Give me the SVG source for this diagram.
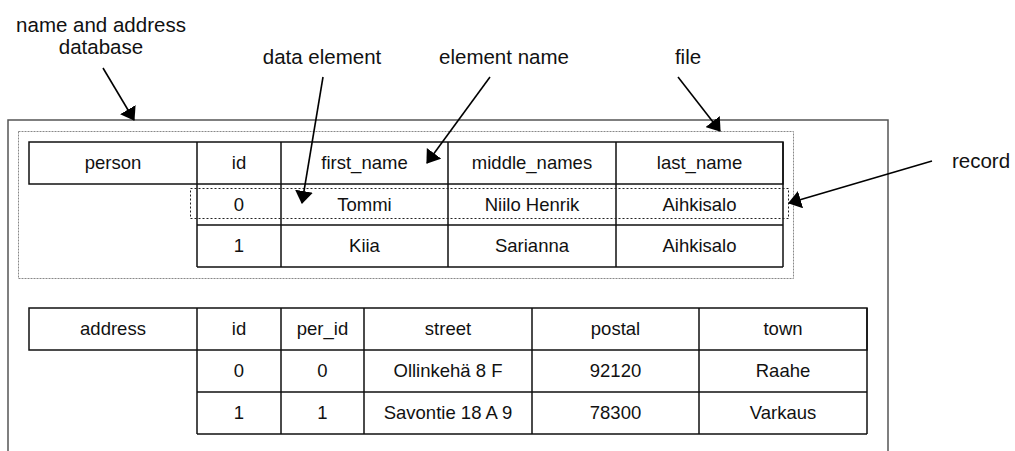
<svg xmlns="http://www.w3.org/2000/svg" width="1015" height="451" viewBox="0 0 1015 451">
  <style>
    .lbl { font-family: "Liberation Sans", Arial, sans-serif; font-size: 20.5px; fill: #111; text-anchor: middle; }
    .cell { font-family: "Liberation Sans", Arial, sans-serif; font-size: 18.5px; fill: #111; text-anchor: middle; }
    .grid { fill: none; stroke: #111; stroke-width: 1.5; }
    .frame { fill: none; stroke: #555; stroke-width: 1.5; }
    .filebox { fill: none; stroke: #888; stroke-width: 1; stroke-dasharray: 2 1; }
    .recbox { fill: none; stroke: #222; stroke-width: 1; stroke-dasharray: 2 2; }
    .arrow { fill: none; stroke: #000; stroke-width: 1.6; marker-end: url(#head); }
  </style>
  <defs>
    <marker id="head" viewBox="0 0 13 18" refX="12" refY="9" markerWidth="13" markerHeight="18" markerUnits="userSpaceOnUse" orient="auto">
      <path d="M0,0 L13,9 L0,18 z" fill="#000"/>
    </marker>
  </defs>
  <rect width="1015" height="451" fill="#fff"/>

  <!-- database frame -->
  <g id="database">
    <path class="frame" d="M8,452 V120 H888 V452"/>
  </g>

  <!-- person file -->
  <g id="file">
    <rect class="filebox" x="18.5" y="131.5" width="775" height="147"/>
  </g>

  <g id="person-table">
    <rect class="grid" x="29" y="142" width="754" height="42"/>
    <path class="grid" d="M197,142 V267 M281,142 V267 M448,142 V267 M616,142 V267 M783,142 V267 M197,225 H783 M197,267 H783"/>
    <text class="cell" x="113" y="169">person</text>
    <text class="cell" x="239" y="169">id</text>
    <text class="cell" x="364.5" y="169">first_name</text>
    <text class="cell" x="532" y="169">middle_names</text>
    <text class="cell" x="699.5" y="169">last_name</text>
    <text class="cell" x="239" y="211">0</text>
    <text class="cell" x="364.5" y="211">Tommi</text>
    <text class="cell" x="532" y="211">Niilo Henrik</text>
    <text class="cell" x="699.5" y="211">Aihkisalo</text>
    <text class="cell" x="239" y="252">1</text>
    <text class="cell" x="364.5" y="252">Kiia</text>
    <text class="cell" x="532" y="252">Sarianna</text>
    <text class="cell" x="699.5" y="252">Aihkisalo</text>
  </g>

  <!-- one record of the person file -->
  <g id="record">
    <rect class="recbox" x="190.5" y="188.5" width="598" height="30"/>
  </g>

  <g id="address-table">
    <rect class="grid" x="29" y="308" width="838" height="42"/>
    <path class="grid" d="M197,308 V434 M281,308 V434 M364,308 V434 M532,308 V434 M699,308 V434 M867,308 V434 M197,392 H867 M197,434 H867"/>
    <text class="cell" x="113" y="335">address</text>
    <text class="cell" x="239" y="335">id</text>
    <text class="cell" x="322.5" y="335">per_id</text>
    <text class="cell" x="448" y="335">street</text>
    <text class="cell" x="615.5" y="335">postal</text>
    <text class="cell" x="783" y="335">town</text>
    <text class="cell" x="239" y="377">0</text>
    <text class="cell" x="322.5" y="377">0</text>
    <text class="cell" x="448" y="377">Ollinkehä 8 F</text>
    <text class="cell" x="615.5" y="377">92120</text>
    <text class="cell" x="783" y="377">Raahe</text>
    <text class="cell" x="239" y="419">1</text>
    <text class="cell" x="322.5" y="419">1</text>
    <text class="cell" x="448" y="419">Savontie 18 A 9</text>
    <text class="cell" x="615.5" y="419">78300</text>
    <text class="cell" x="783" y="419">Varkaus</text>
  </g>

  <!-- callout labels -->
  <g id="labels">
    <text class="lbl" x="101" y="32">name and address</text>
    <text class="lbl" x="101" y="54">database</text>
    <text class="lbl" x="322" y="64">data element</text>
    <text class="lbl" x="504" y="64">element name</text>
    <text class="lbl" x="688" y="64">file</text>
    <text class="lbl" x="981" y="168">record</text>
  </g>

  <g id="connectors">
    <line class="arrow" x1="103" y1="68" x2="134" y2="120"/>
    <line class="arrow" x1="323" y1="77" x2="302" y2="203"/>
    <line class="arrow" x1="490" y1="77" x2="427" y2="163"/>
    <line class="arrow" x1="678" y1="77" x2="720" y2="131"/>
    <line class="arrow" x1="932" y1="161" x2="789" y2="203"/>
  </g>
</svg>
